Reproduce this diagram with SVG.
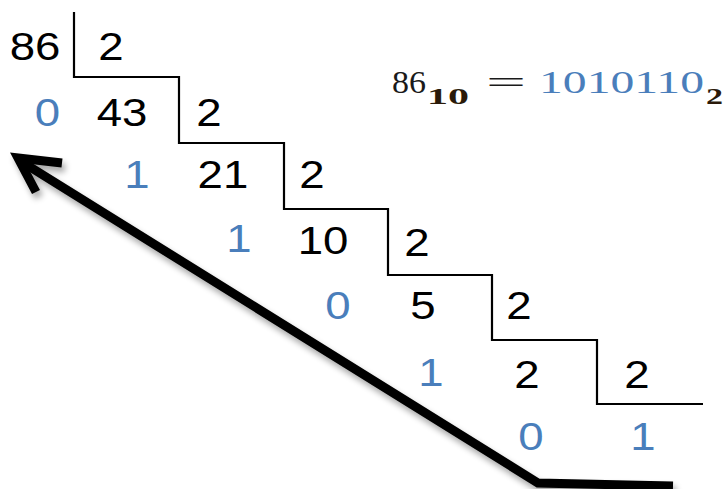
<svg xmlns="http://www.w3.org/2000/svg" width="724" height="489" viewBox="0 0 724 489">
<style>
.n{font-family:"Liberation Sans",Arial,sans-serif;font-size:38px;text-anchor:middle;fill:#000}
.eq{font-family:"Liberation Serif","Times New Roman",serif;font-size:32px;fill:#1a1a1a}
.sub{font-family:"Liberation Serif","Times New Roman",serif;font-size:24px;font-weight:bold;fill:#2a1a0a}
.b,.eq.b{fill:#4a7ebb}
.stair{fill:none;stroke:#000;stroke-width:2.2}
.arr{fill:none;stroke:#000;stroke-width:9;stroke-linejoin:miter;stroke-linecap:butt}
</style>
<defs>
<filter id="sh" x="-10%" y="-10%" width="130%" height="140%">
<feGaussianBlur in="SourceAlpha" stdDeviation="3"/>
<feOffset dx="3" dy="5" result="o"/>
<feComponentTransfer><feFuncA type="linear" slope="0.35"/></feComponentTransfer>
<feMerge><feMergeNode/><feMergeNode in="SourceGraphic"/></feMerge>
</filter>
</defs>
<rect width="724" height="489" fill="#fff"/>
<g id="connectors">
<path class="stair" d="M74,12 V77 H179 V143 H284 V209 H388 V275 H492 V340 H597 V404 H703"/>
<g filter="url(#sh)">
<path class="arr" d="M673,486 L538,483 L22,162"/>
<path class="arr" d="M62,163 L18,158 L36,192"/>
</g>
</g>
<g transform="scale(1.2,1)">
<g id="row0"><text class="n" x="29.2" y="60">86</text><text class="n" x="92.5" y="60">2</text></g>
<g id="row1"><text class="n b" x="39.6" y="126">0</text><text class="n" x="101.7" y="126">43</text><text class="n" x="174.2" y="126">2</text></g>
<g id="row2"><text class="n b" x="114.2" y="188">1</text><text class="n" x="185.8" y="188">21</text><text class="n" x="260" y="188">2</text></g>
<g id="row3"><text class="n b" x="199.2" y="252">1</text><text class="n" x="269.2" y="254">10</text><text class="n" x="347.5" y="256">2</text></g>
<g id="row4"><text class="n b" x="281.7" y="319">0</text><text class="n" x="352.5" y="319">5</text><text class="n" x="432.5" y="319">2</text></g>
<g id="row5"><text class="n b" x="359.2" y="386">1</text><text class="n" x="439.2" y="388">2</text><text class="n" x="530.8" y="388">2</text></g>
<g id="row6"><text class="n b" x="442.5" y="450">0</text><text class="n b" x="535.8" y="450">1</text></g>
</g>
<g id="equation">
<text class="eq" x="392" y="93" textLength="34" lengthAdjust="spacingAndGlyphs">86</text>
<text class="sub" x="427" y="104" textLength="42" lengthAdjust="spacingAndGlyphs">10</text>
<text class="eq" x="486" y="93" textLength="40" lengthAdjust="spacingAndGlyphs">=</text>
<text class="eq b" x="539" y="93" textLength="165" lengthAdjust="spacingAndGlyphs">1010110</text>
<text class="sub" x="706" y="104" textLength="17" lengthAdjust="spacingAndGlyphs">2</text>
</g>
</svg>
